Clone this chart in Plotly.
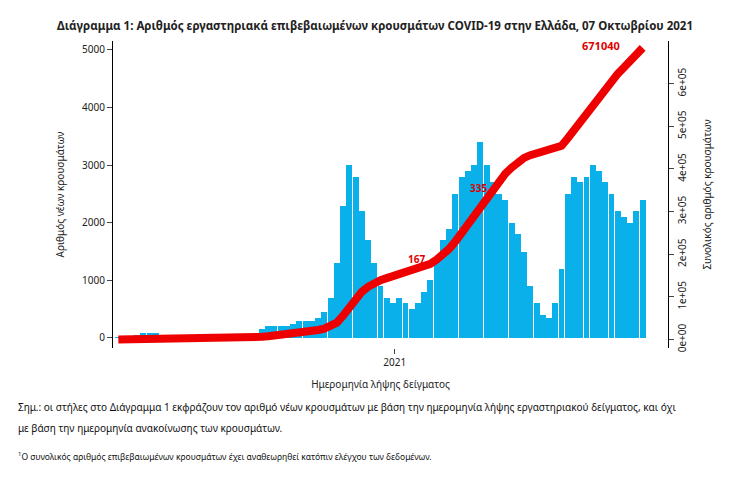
import plotly.graph_objects as go
import pandas as pd
import numpy as np

# weekly average of daily new cases (weeks starting 2020-02-26)
weekly_cases = [
    3, 10, 40, 60, 80,
    90, 80, 50, 30, 20,
    15, 10, 10, 10,
    10, 15, 15, 20,
    20, 30, 30, 40, 60,
    150, 200, 200, 200,
    200, 250, 300, 300, 300,
    350, 450, 700, 1300,
    2300, 3000, 2800, 2200,
    1700, 1300, 900, 700, 600,
    700, 600, 500, 600,
    800, 1000, 1400, 1700,
    1900, 2500, 2800, 2900, 3000,
    3400, 3000, 2700, 2500,
    2400, 2000, 1800, 1500,
    900, 600, 400, 350, 600,
    1200, 2500, 2800, 2700,
    2800, 3000, 2900, 2700,
    2500, 2200, 2100, 2000, 2200,
    2400,
]
dates = pd.date_range("2020-02-26", periods=len(weekly_cases), freq="7D")
cumulative = np.cumsum(np.array(weekly_cases) * 7)
cum_labels = {"2021-02-03": "167", "2021-04-14": "335"}
final_label = "671040"

fig = go.Figure()
fig.add_bar(x=dates, y=weekly_cases, marker_color="#0ab0ea", marker_line_width=0,
            width=7 * 86400000 * 0.95, name="new")
fig.add_scatter(x=dates, y=cumulative, yaxis="y2", mode="lines",
                line=dict(color="#ee0000", width=8), name="cum")
for d, t in cum_labels.items():
    i = list(dates.strftime("%Y-%m-%d")).index(d)
    fig.add_annotation(x=dates[i], y=cumulative[i], yref="y2", text="<b>" + t + "</b>", showarrow=False,
                       font=dict(color="#dd0000", size=10, family="Noto Sans"), xshift=-8, yshift=8)
fig.add_annotation(x=dates[-1], y=cumulative[-1], yref="y2", text="<b>" + final_label + "</b>", showarrow=False,
                   font=dict(color="#dd0000", size=11, family="Noto Sans"), xshift=-42, yshift=2)

fig.update_layout(
    width=734, height=483, showlegend=False, plot_bgcolor="white", paper_bgcolor="white",
    margin=dict(l=105, r=74, t=33, b=143),
    font=dict(family="Noto Sans", size=10, color="#222"),
    title=dict(text="<b>Διάγραμμα 1: Αριθμός εργαστηριακά επιβεβαιωμένων κρουσμάτων COVID-19 στην Ελλάδα, 07 Οκτωβρίου 2021</b>",
               x=0.5, y=0.963, yanchor="middle", xanchor="center", font=dict(size=11.5)),
    bargap=0,
    xaxis=dict(domain=[0, 0.964], tickvals=["2021-01-01"], ticktext=["2021"], showgrid=False, ticks="outside",
               range=["2020-02-20", "2021-10-12"],
               title=dict(text="Ημερομηνία λήψης δείγματος", font=dict(size=10), standoff=12)),
    yaxis=dict(range=[-174, 5156], tickvals=[0, 1000, 2000, 3000, 4000, 5000], showgrid=False,
               showline=True, linecolor="black", ticks="outside",
               title=dict(text="Αριθμός νέων κρουσμάτων", font=dict(size=10))),
    yaxis2=dict(overlaying="y", side="right", anchor="free", position=1.0,
                range=[-20000, 700000],
                tickvals=[0, 1e5, 2e5, 3e5, 4e5, 5e5, 6e5],
                ticktext=["0e+00", "1e+05", "2e+05", "3e+05", "4e+05", "5e+05", "6e+05"],
                tickangle=-90, showgrid=False, showline=True, linecolor="black", ticks="outside",
                title=dict(text="Συνολικός αριθμός κρουσμάτων", font=dict(size=10))),
)
notes = [
    (-59, "Σημ.: οι στήλες στο Διάγραμμα 1 εκφράζουν τον αριθμό νέων κρουσμάτων με βάση την ημερομηνία λήψης εργαστηριακού δείγματος, και όχι", 10),
    (-80, "με βάση την ημερομηνία ανακοίνωσης των κρουσμάτων.", 10),
    (-108, "<sup>1</sup>Ο συνολικός αριθμός επιβεβαιωμένων κρουσμάτων έχει αναθεωρηθεί κατόπιν ελέγχου των δεδομένων.", 8.5),
]
for y, t, s in notes:
    fig.add_annotation(xref="paper", yref="paper", x=-0.175, y=0, yshift=y,
                       text=t, showarrow=False, xanchor="left", yanchor="middle",
                       font=dict(size=s, color="#111"))
fig.write_html("out.html")
